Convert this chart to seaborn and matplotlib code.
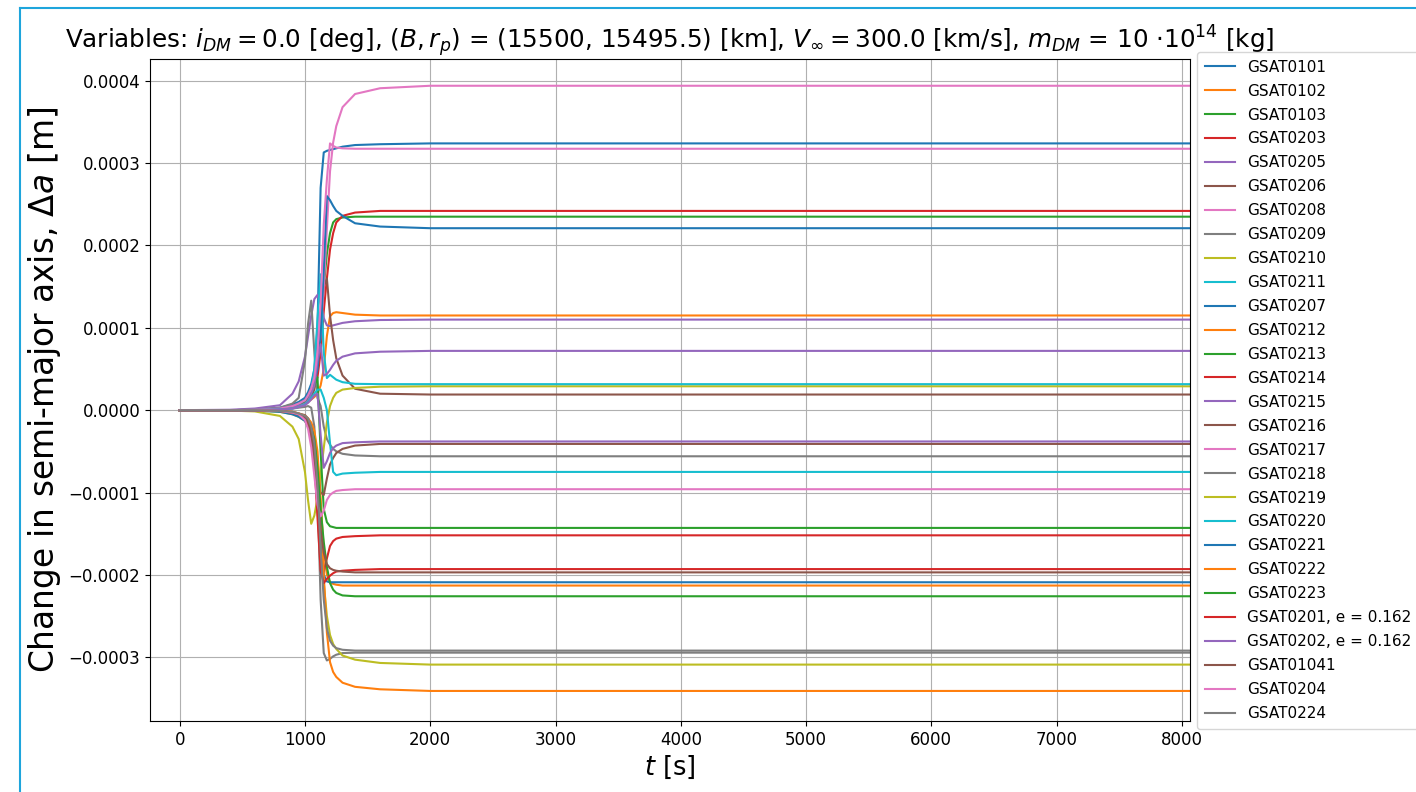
import numpy as np
import pandas as pd
import matplotlib
matplotlib.use("Agg")
import matplotlib.pyplot as plt
from matplotlib.lines import Line2D
import seaborn as sns

# shared time grid [s]
t_s = [0, 400, 600, 800, 900, 950, 1000, 1025, 1050, 1075, 1100, 1125, 1150,
       1175, 1200, 1225, 1250, 1300, 1400, 1600, 2000, 8100]

# change in semi-major axis, in units of 1e-5 m
gsat0101 = [0, 0, 0.05, 0.3, 0.7, 1.0, 1.5, 2.2, 3.2, 5, 10, 27, 31.3, 31.5, 31.6, 31.7, 31.8, 32.0, 32.2, 32.3, 32.4, 32.4]
gsat0102 = [0, 0, 0, 0.1, 0.3, 0.5, 0.8, 1.0, 1.3, 1.6, 2, 3, 5, 9, 11.4, 11.8, 11.9, 11.8, 11.6, 11.5, 11.5, 11.5]
gsat0103 = [0, 0, 0.05, 0.2, 0.5, 0.8, 1.2, 1.8, 2.6, 3.8, 6, 10, 15, 19, 21.5, 22.8, 23.2, 23.4, 23.5, 23.5, 23.5, 23.5]
gsat0203 = [0, 0, 0.05, 0.2, 0.5, 0.7, 1, 1.5, 2, 2.8, 4, 7, 12, 16, 19.5, 21.5, 22.8, 23.6, 24.0, 24.2, 24.2, 24.2]
gsat0205 = [0, 0.05, 0.2, 0.6, 2.0, 3.5, 6.5, 9, 11.5, 13.5, 14, 13, 11.2, 10.3, 10.2, 10.3, 10.4, 10.6, 10.8, 10.95, 11.0, 11.0]
gsat0206 = [0, 0, 0, 0.1, 0.3, 0.5, 0.8, 1.1, 1.6, 2.5, 5, 10, 15, 16, 11.5, 8.5, 6.3, 4.2, 2.6, 2.0, 1.9, 1.9]
gsat0208 = [0, 0, 0.05, 0.2, 0.5, 0.8, 1.2, 1.8, 2.6, 4, 6, 9, 15, 22, 29, 32.5, 34.5, 36.8, 38.4, 39.1, 39.4, 39.4]
gsat0209 = [0, 0, 0.05, 0.3, 0.8, 1.5, 6, 10.5, 13.3, 7, 1.5, 0.5, -2, -3.5, -4.2, -4.7, -5.0, -5.3, -5.5, -5.6, -5.6, -5.6]
gsat0210 = [0, -0.05, -0.15, -0.7, -2, -3.5, -7.5, -11, -13.8, -12.8, -10.7, -7.8, -4.6, -1.5, 0.5, 1.5, 2.1, 2.5, 2.7, 2.85, 2.9, 2.9]
gsat0211 = [0, 0, 0, 0.1, 0.3, 0.5, 0.9, 1.4, 2.5, 5, 11, 16.5, 7, 3.9, 4.3, 4.0, 3.7, 3.4, 3.2, 3.16, 3.16, 3.16]
gsat0207 = [0, 0, 0.05, 0.2, 0.5, 0.8, 1.2, 1.8, 2.5, 3.5, 5, 9, 17, 26, 25.5, 24.8, 24.2, 23.6, 22.7, 22.3, 22.1, 22.1]
gsat0212 = [0, 0, 0, -0.1, -0.3, -0.5, -0.9, -1.3, -2, -3, -6, -11, -17, -20, -20.9, -21.1, -21.2, -21.3, -21.3, -21.3, -21.3, -21.3]
gsat0213 = [0, 0, 0, 0.1, 0.3, 0.5, 0.9, 1.3, 2, 3, 4, -5, -12, -13.6, -14.1, -14.2, -14.3, -14.3, -14.3, -14.3, -14.3, -14.3]
gsat0214 = [0, 0, 0, -0.1, -0.3, -0.5, -1, -1.8, -3, -6, -12, -18, -19.6, -18, -16.5, -15.9, -15.6, -15.4, -15.3, -15.2, -15.2, -15.2]
gsat0215 = [0, 0, 0, 0.1, 0.3, 0.5, 0.8, 1.2, 2, 3, 6, 8, 4.2, 4.4, 4.9, 5.5, 6.0, 6.5, 6.9, 7.1, 7.2, 7.2]
gsat0216 = [0, 0, 0, -0.1, -0.2, -0.4, -0.6, -1, -2, -4, -7, -10, -10.3, -8.3, -6.6, -5.8, -5.2, -4.7, -4.3, -4.1, -4.1, -4.1]
gsat0217 = [0, 0, 0.05, 0.2, 0.5, 0.8, 1.2, 1.8, 2.6, 4, 7, 13, 22.5, 28, 32.4, 32.1, 31.9, 31.8, 31.75, 31.75, 31.75, 31.75]
gsat0218 = [0, 0, 0, 0.05, 0.2, 0.3, 0.4, 0.5, 0.3, -2, -10, -23, -29.5, -30.4, -30.2, -29.9, -29.7, -29.5, -29.45, -29.45, -29.45, -29.45]
gsat0219 = [0, 0, -0.05, -0.2, -0.5, -0.8, -1.3, -2, -3, -5, -8, -14, -21, -25, -27.3, -28.4, -29.0, -29.8, -30.3, -30.7, -30.9, -30.9]
gsat0220 = [0, 0, 0, 0.1, 0.2, 0.4, 0.7, 1, 1.5, 2, 2.5, 2.5, 1.5, 0, -4, -7.5, -7.9, -7.7, -7.6, -7.5, -7.5, -7.5]
gsat0221 = [0, 0, -0.05, -0.2, -0.5, -0.8, -1.3, -2, -3, -5, -8, -14, -20, -20.8, -20.9, -20.9, -20.9, -20.9, -20.9, -20.9, -20.9, -20.9]
gsat0222 = [0, 0, 0, -0.1, -0.2, -0.4, -0.7, -1, -1.5, -2.5, -5, -11, -20, -27, -30.6, -31.8, -32.4, -33.1, -33.6, -33.9, -34.1, -34.1]
gsat0223 = [0, 0, 0, -0.1, -0.3, -0.5, -0.9, -1.4, -2.2, -3.5, -7, -12, -16, -19, -21, -21.8, -22.2, -22.5, -22.6, -22.6, -22.6, -22.6]
gsat0201 = [0, 0, 0, -0.1, -0.3, -0.5, -1, -1.8, -3, -6, -13, -19.5, -21.0, -20.5, -20.1, -19.8, -19.6, -19.5, -19.4, -19.3, -19.3, -19.3]
gsat0202 = [0, 0, 0, 0.1, 0.2, 0.4, 0.6, 0.9, 1.3, 1.8, 2.0, -3, -7, -6.2, -5.2, -4.6, -4.3, -4.0, -3.9, -3.8, -3.8, -3.8]
gsat01041 = [0, 0, 0, -0.1, -0.3, -0.5, -0.9, -1.5, -3, -6, -10, -14.5, -17.3, -18.7, -19.2, -19.4, -19.5, -19.6, -19.7, -19.7, -19.7, -19.7]
gsat0204 = [0, 0, 0, -0.1, -0.3, -0.5, -1.2, -2.3, -4.5, -8, -11.5, -12.9, -12.2, -10.9, -10.3, -10.0, -9.8, -9.7, -9.6, -9.6, -9.6, -9.6]
gsat0224 = [0, 0, 0, -0.1, -0.2, -0.4, -0.7, -1, -2, -4, -9, -17, -23, -26.5, -28.0, -28.6, -28.9, -29.1, -29.2, -29.2, -29.2, -29.2]

names = ["GSAT0101", "GSAT0102", "GSAT0103", "GSAT0203", "GSAT0205", "GSAT0206",
         "GSAT0208", "GSAT0209", "GSAT0210", "GSAT0211", "GSAT0207", "GSAT0212",
         "GSAT0213", "GSAT0214", "GSAT0215", "GSAT0216", "GSAT0217", "GSAT0218",
         "GSAT0219", "GSAT0220", "GSAT0221", "GSAT0222", "GSAT0223",
         "GSAT0201, e = 0.162", "GSAT0202, e = 0.162", "GSAT01041", "GSAT0204",
         "GSAT0224"]
series = [gsat0101, gsat0102, gsat0103, gsat0203, gsat0205, gsat0206, gsat0208,
          gsat0209, gsat0210, gsat0211, gsat0207, gsat0212, gsat0213, gsat0214,
          gsat0215, gsat0216, gsat0217, gsat0218, gsat0219, gsat0220, gsat0221,
          gsat0222, gsat0223, gsat0201, gsat0202, gsat01041, gsat0204, gsat0224]

rows = []
for n, vals in zip(names, series):
    for t, v in zip(t_s, vals):
        rows.append((n, t, v * 1e-5))
df = pd.DataFrame(rows, columns=["sat", "t", "da"])

tab10 = sns.color_palette("tab10", 10)
pal = [tab10[i % 10] for i in range(len(names))]

fig = plt.figure(figsize=(14.16, 7.92), dpi=100)
ax = fig.add_axes([150 / 1416, 1 - 721 / 792, 1040 / 1416, 662 / 792])
sns.lineplot(data=df, x="t", y="da", hue="sat", hue_order=names, palette=pal,
             estimator=None, sort=False, linewidth=1.5, ax=ax)

ax.set_xlim(-237, 8065)
ax.set_ylim(-0.0003775, 0.0004265)
ax.set_xticks([0, 1000, 2000, 3000, 4000, 5000, 6000, 7000, 8000])
ax.tick_params(labelsize=12)
ax.grid(True, color="#b0b0b0", linewidth=0.8)
ax.set_axisbelow(True)
ax.set_xlabel(r"$t$ [s]", fontsize=18.5)
ax.set_ylabel(r"Change in semi-major axis, $\Delta a$ [m]", fontsize=23.6)
ax.set_title(r"Variables: $i_{DM} = 0.0$ [deg], $(B, r_p)$ = (15500, 15495.5) [km], "
             r"$V_\infty = 300.0$ [km/s], $m_{DM}$ = 10 $\cdot 10^{14}$ [kg]",
             fontsize=17.7)

handles, labels = ax.get_legend_handles_labels()
if ax.get_legend() is not None:
    ax.get_legend().remove()
ax.legend(handles, labels, loc="upper left", bbox_to_anchor=(1197 / 1416, 1 - 52 / 792),
          bbox_transform=fig.transFigure, borderaxespad=0, fontsize=11,
          labelspacing=0.585, borderpad=0.5)

# screenshot frame lines
fig.add_artist(Line2D([20 / 1416, 1.0], [1 - 8 / 792, 1 - 8 / 792],
                      transform=fig.transFigure, color="#1ea5dc", lw=1.5))
fig.add_artist(Line2D([20 / 1416, 20 / 1416], [0, 1 - 8 / 792],
                      transform=fig.transFigure, color="#1ea5dc", lw=1.5))

fig.savefig("out.png", dpi=100)
